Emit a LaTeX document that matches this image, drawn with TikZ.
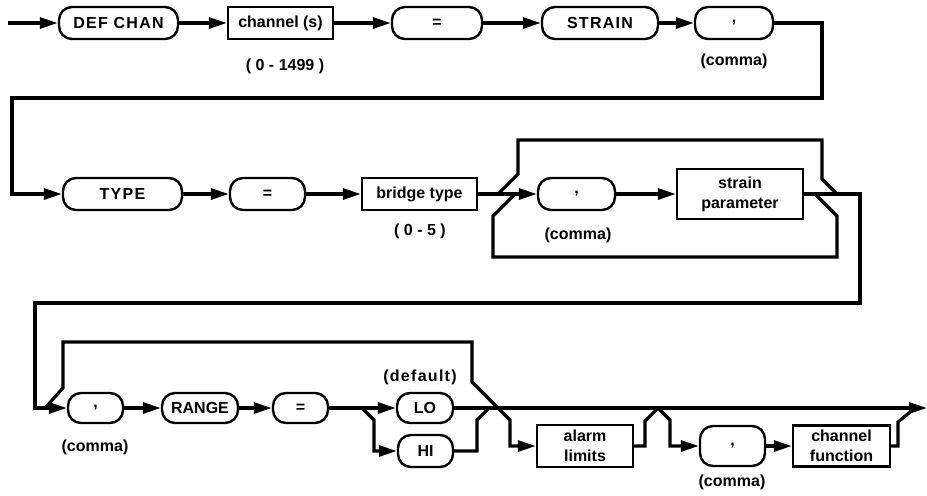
\documentclass[tikz,border=0pt]{standalone}
\usepackage{fontspec}
\setmainfont{Liberation Sans}
\newfontfamily\widefont[LetterSpace=8]{Liberation Sans}
\usetikzlibrary{arrows.meta}

\begin{document}
\begin{tikzpicture}[x=0.5pt, y=-0.5pt, >={Triangle[length=9pt,width=5.5pt]},
    line width=1.6pt, font=\fontsize{8}{10}\selectfont\bfseries,
    kw/.style={draw, line width=1.2pt, rounded corners=6.5pt, minimum height=16pt, inner sep=1pt},
    par/.style={draw, line width=1.2pt, minimum height=16pt, inner sep=1pt, align=center},
    lbl/.style={inner sep=0pt}]
    \useasboundingbox (0,0) rectangle (927,495);

    % First row: DEF CHAN channel(s) = STRAIN ,
    \coordinate (in) at (8,23);
    \node[kw, minimum width=59.5pt] (defchan) at (118.5,23) {\widefont DEF CHAN};
    \node[par, minimum width=52.5pt] (chan) at (280.5,23) {channel (s)};
    \node[kw, minimum width=45pt] (eq1) at (437,23) {=};
    \node[kw, minimum width=58pt] (strain) at (600,23) {\widefont STRAIN};
    \node[kw, minimum width=39pt] (comma1) at (734,23) {,};
    \node[lbl] (chanlbl) at (285,66) {( 0 - 1499 )};
    \node[lbl] (comma1lbl) at (734,61) {(comma)};

    \draw[->] (in) -- (defchan);
    \draw[->] (defchan) -- (chan);
    \draw[->] (chan) -- (eq1);
    \draw[->] (eq1) -- (strain);
    \draw[->] (strain) -- (comma1);

    % Second row: TYPE = bridge type , strain parameter
    \node[kw, minimum width=59.5pt] (type) at (122.5,194) {\widefont TYPE};
    \node[kw, minimum width=37.5pt] (eq2) at (267.5,194) {=};
    \node[par, minimum width=57.5pt] (bridge) at (419.5,194) {bridge type};
    \node[kw, minimum width=38.5pt] (comma2) at (576.5,194) {,};
    \node[par, minimum width=63pt, minimum height=25pt] (spar) at (740,194) {strain\\parameter};
    \node[lbl] (bridgelbl) at (420,231) {( 0 - 5 )};
    \node[lbl] (comma2lbl) at (578,235) {(comma)};

    \coordinate (r1a) at (822,98);
    \coordinate (r1b) at (12,98);
    \draw[->] (comma1.east) -| (r1a) -- (r1b) |- (type.west);
    \draw[->] (type) -- (eq2);
    \draw[->] (eq2) -- (bridge);
    \draw[->] (bridge) -- (comma2);
    \draw[->] (comma2) -- (spar);

    % skip over and repeat the strain parameters
    \coordinate (skipin) at (498,194);
    \coordinate (skipout) at (837,194);
    \draw (skipin) -- (518,174) -- (518,140) -- (822,140) -- (822,179) -- (skipout);
    \coordinate (repout) at (815,194);
    \coordinate (repin) at (515,194);
    \draw (repout) -- (837,216) -- (837,257) -- (493,257) -- (493,216) -- (repin);

    % Third row: , RANGE = LO/HI alarm limits , channel function
    \node[kw, minimum width=27.5pt, minimum height=15pt] (comma3) at (95.5,408) {,};
    \node[kw, minimum width=38pt, minimum height=15pt] (range) at (200,408) {RANGE};
    \node[kw, minimum width=27.5pt, minimum height=15pt] (eq3) at (300.5,408) {=};
    \node[kw, minimum width=28pt, minimum height=15pt] (lo) at (425,408) {LO};
    \node[kw, minimum width=27.5pt, minimum height=16pt] (hi) at (425.5,451) {HI};
    \node[par, minimum width=48pt, minimum height=21pt] (alarm) at (585,446) {alarm\\limits};
    \node[kw, minimum width=32.5pt, minimum height=20pt] (comma4) at (732.5,446) {,};
    \node[par, minimum width=48.5pt, minimum height=20.5pt] (chfun) at (841.5,446) {channel\\function};
    \node[lbl] (comma3lbl) at (95,447) {(comma)};
    \node[lbl] (deflbl) at (420,377) {\widefont (default)};
    \node[lbl] (comma4lbl) at (732,482) {(comma)};

    \coordinate (r2a) at (860,303);
    \coordinate (r2b) at (35,303);
    \draw[->] (spar.east) -| (r2a) -- (r2b) |- (comma3.west);
    \draw[->] (comma3) -- (range);
    \draw[->] (range) -- (eq3);
    \draw[->] (eq3) -- (lo);
    \coordinate (end) at (927,408);
    \draw[->] (lo) -- (end);

    % HI branch
    \coordinate (hifork) at (362,408);
    \coordinate (hijoin) at (489,408);
    \draw[->] (hifork) -- (374,420) |- (hi.west);
    \draw (hi.east) -| (477,420) -- (hijoin);

    % skip the range part, into alarm limits
    \coordinate (optin) at (45,408);
    \draw[->] (optin) -- (63,388) -- (63,342) -- (472,342) -- (472,382) -- (510,420) |- (alarm.west);
    \coordinate (alarmjoin) at (658,408);
    \draw (alarm.east) -| (645,421) -- (alarmjoin);

    % optional channel function
    \draw[->] (alarmjoin) -- (670,420) |- (comma4.west);
    \draw[->] (comma4) -- (chfun);
    \coordinate (fnjoin) at (915,408);
    \draw (chfun.east) -| (898,422) -- (fnjoin);
\end{tikzpicture}
\end{document}
